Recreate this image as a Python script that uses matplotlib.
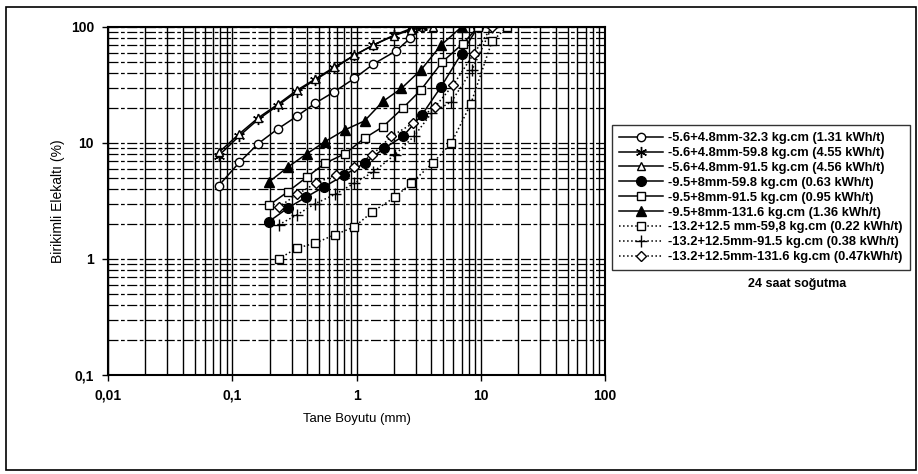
import numpy as np
import matplotlib.pyplot as plt
from matplotlib.patches import Rectangle
from matplotlib.ticker import FixedLocator, LogLocator, NullFormatter

plt.rcParams['font.family'] = ['Liberation Sans', 'DejaVu Sans']

# Veriler (grafikten okunan yaklaşık değerler)
x_a = [0.078, 0.114, 0.162, 0.232, 0.331, 0.464, 0.66, 0.96, 1.37, 2.07, 2.71, 3.35]
y_a = [4.3, 6.8, 9.9, 13.2, 17, 22, 27.6, 36, 48, 62, 80, 100]

x_b = [0.078, 0.114, 0.162, 0.232, 0.331, 0.464, 0.66, 0.96, 1.37, 2.0, 2.75, 3.35]
y_b = [7.8, 11.5, 16, 21, 27.7, 35, 44, 57, 70, 85, 97, 100]

x_c = [0.078, 0.114, 0.162, 0.232, 0.331, 0.464, 0.66, 0.96, 1.37, 2.0, 2.75, 4.15]
y_c = [8.3, 12, 16.5, 21.5, 28.5, 35.5, 45, 57, 70, 84, 95, 100]

x_d = [0.197, 0.28, 0.39, 0.55, 0.8, 1.16, 1.67, 2.36, 3.35, 4.8, 7.0, 9.5]
y_d = [2.1, 2.75, 3.4, 4.2, 5.3, 6.7, 9.0, 11.4, 17.4, 30.6, 59, 100]

x_e = [0.197, 0.28, 0.4, 0.56, 0.81, 1.16, 1.63, 2.36, 3.3, 4.9, 7.2, 9.5]
y_e = [2.9, 3.8, 5.1, 6.7, 8.1, 11, 13.8, 20, 28.7, 50, 72, 100]

x_f = [0.197, 0.28, 0.4, 0.56, 0.81, 1.16, 1.63, 2.3, 3.3, 4.8, 7.0]
y_f = [4.6, 6.2, 8.1, 10.3, 13, 15.5, 22.8, 29.6, 42.6, 70, 100]

x_g = [0.236, 0.331, 0.464, 0.67, 0.96, 1.34, 2.03, 2.75, 4.1, 5.8, 8.3, 12.3, 16.3]
y_g = [1.0, 1.24, 1.37, 1.62, 1.89, 2.55, 3.4, 4.5, 6.7, 10, 21.6, 75, 100]

x_h = [0.236, 0.331, 0.464, 0.67, 0.96, 1.37, 2.03, 2.9, 4.0, 5.8, 8.5, 12.3]
y_h = [1.97, 2.4, 3.0, 3.6, 4.5, 5.65, 7.9, 11.4, 18, 22.7, 42.6, 100]

x_i = [0.236, 0.331, 0.47, 0.68, 0.96, 1.34, 1.9, 2.85, 4.3, 6.0, 8.8, 12.3]
y_i = [2.8, 3.6, 4.5, 5.3, 6.25, 7.9, 11.4, 14.8, 20.6, 31.6, 59, 100]

etiketler = [
    '-5.6+4.8mm-32.3 kg.cm (1.31 kWh/t)',
    '-5.6+4.8mm-59.8 kg.cm (4.55 kWh/t)',
    '-5.6+4.8mm-91.5 kg.cm (4.56 kWh/t)',
    '-9.5+8mm-59.8 kg.cm (0.63 kWh/t)',
    '-9.5+8mm-91.5 kg.cm (0.95 kWh/t)',
    '-9.5+8mm-131.6 kg.cm (1.36 kWh/t)',
    '-13.2+12.5 mm-59,8 kg.cm (0.22 kWh/t)',
    '-13.2+12.5mm-91.5 kg.cm (0.38 kWh/t)',
    '-13.2+12.5mm-131.6 kg.cm (0.47kWh/t)',
]

fig = plt.figure(figsize=(9.18, 4.74), dpi=100)
ax = fig.add_axes([108 / 918, 1 - 375 / 474, 497 / 918, 348 / 474])

stil = dict(color='black', lw=1.1, ms=6, mec='black', mew=1.0)
ax.plot(x_a, y_a, '-', marker='o', mfc='white', label=etiketler[0], **stil)
ax.plot(x_b, y_b, '-', marker=(6, 2, 0), mfc='black', label=etiketler[1], **dict(stil, ms=8))
ax.plot(x_c, y_c, '-', marker='^', mfc='white', label=etiketler[2], **stil)
ax.plot(x_d, y_d, '-', marker='o', mfc='black', label=etiketler[3], **dict(stil, ms=7))
ax.plot(x_e, y_e, '-', marker='s', mfc='white', label=etiketler[4], **stil)
ax.plot(x_f, y_f, '-', marker='^', mfc='black', label=etiketler[5], **dict(stil, ms=7))
ax.plot(x_g, y_g, ':', marker='s', mfc='white', label=etiketler[6], **stil)
ax.plot(x_h, y_h, ':', marker='+', mfc='black', label=etiketler[7], **dict(stil, ms=8))
ax.plot(x_i, y_i, ':', marker='D', mfc='white', label=etiketler[8], **dict(stil, ms=5))

ax.set_xscale('log')
ax.set_yscale('log')
ax.set_xlim(0.01, 100)
ax.set_ylim(0.1, 100)

ax.xaxis.set_major_locator(FixedLocator([0.01, 0.1, 1, 10, 100]))
ax.yaxis.set_major_locator(FixedLocator([0.1, 1, 10, 100]))
ax.xaxis.set_minor_locator(LogLocator(base=10, subs=np.arange(2, 10), numticks=20))
ax.yaxis.set_minor_locator(LogLocator(base=10, subs=np.arange(2, 10), numticks=20))
ax.xaxis.set_minor_formatter(NullFormatter())
ax.yaxis.set_minor_formatter(NullFormatter())
ax.set_xticklabels(['0,01', '0,1', '1', '10', '100'], fontsize=10, fontweight='bold')
ax.set_yticklabels(['0,1', '1', '10', '100'], fontsize=10, fontweight='bold')
ax.tick_params(which='major', length=4, width=1, pad=6)
ax.tick_params(which='minor', length=0)

ax.grid(True, axis='x', which='both', color='black', lw=1.0)
ax.grid(True, axis='y', which='both', color='black', lw=0.9, ls=(0, (8, 2, 3, 2)))
for s in ax.spines.values():
    s.set_linewidth(1.5)

ax.set_xlabel('Tane Boyutu (mm)', fontsize=9.5, labelpad=7)
ax.set_ylabel('Birikimli Elekaltı (%)', fontsize=10, labelpad=4)

leg = fig.legend(loc='upper left', bbox_to_anchor=(612 / 918, 1 - 125 / 474),
                 fontsize=9.3, frameon=True, fancybox=False, edgecolor='black',
                 handlelength=3.4, handletextpad=0.4, borderpad=0.55,
                 labelspacing=0.22, borderaxespad=0)
leg.get_frame().set_linewidth(1.0)
for t in leg.get_texts():
    t.set_fontweight('bold')

fig.text(748 / 918, 1 - 284 / 474, '24 saat soğutma', fontsize=9, fontweight='bold',
         va='center', ha='left')

fig.patches.append(Rectangle((6 / 918, 4 / 474), 910 / 918, 463 / 474, transform=fig.transFigure,
                             fill=False, edgecolor='black', lw=1.2))

fig.savefig('out.png', dpi=100)
